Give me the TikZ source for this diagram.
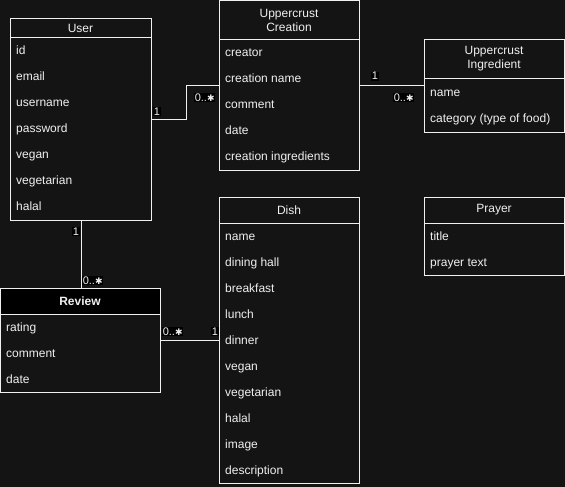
\documentclass[tikz,border=0pt]{standalone}
\usepackage{fontspec}
\setmainfont{Liberation Sans}
\newfontfamily\symfont{DejaVu Sans}
\newcommand{\many}{0..{\symfont\fontsize{9}{9}\selectfont ✱}}
\begin{document}
\definecolor{canvas}{HTML}{141414}
\definecolor{ink}{HTML}{F0F0F0}
\begin{tikzpicture}[x=1pt,y=-1pt,
  box/.style={draw=ink, line width=1pt, fill=canvas, rectangle, anchor=north west, inner sep=0pt},
  title/.style={text=ink, font=\fontsize{12}{14}\selectfont, align=center, inner sep=0pt},
  row/.style={text=ink, font=\fontsize{12}{14}\selectfont, anchor=base west, inner sep=0pt},
  conn/.style={draw=ink, line width=1pt},
  mult/.style={text=ink, fill=black, font=\fontsize{11}{12}\selectfont, inner sep=0.6pt, anchor=base west}]
\useasboundingbox (0,0) rectangle (565,487);
\fill[canvas] (0,0) rectangle (565,487);

% User
\node[box, minimum width=141pt, minimum height=202pt] (user) at (10,18) {};
\draw[conn] (10,38) -- (151,38);
\node[title] (userT) at (80.5,28) {User};
\foreach \t [count=\i from 0] in {id,email,username,password,vegan,vegetarian,halal}
  \node[row] (userR\i) at (16,54.5+26*\i) {\t};

% Uppercrust Creation
\node[box, minimum width=140pt, minimum height=170pt] (creation) at (219,0) {};
\draw[conn] (219,40) -- (359,40);
\node[title] (creationT) at (289,20) {Uppercrust\\Creation};
\foreach \t [count=\i from 0] in {creator,creation name,comment,date,creation ingredients}
  \node[row] (creationR\i) at (225,56.5+26*\i) {\t};

% Uppercrust Ingredient
\node[box, minimum width=140pt, minimum height=93pt] (ingredient) at (424,39) {};
\draw[conn] (424,79) -- (564,79);
\node[title] (ingredientT) at (494,59) {Uppercrust\\Ingredient};
\node[row] (ingredientR0) at (430,96.5) {name};
\node[row] (ingredientR1) at (430,122.5) {category (type of food)};

% Dish
\node[box, minimum width=140pt, minimum height=286pt] (dish) at (219,197) {};
\draw[conn] (219,223) -- (359,223);
\node[title] (dishT) at (289,210) {Dish};
\foreach \t [count=\i from 0] in {name,dining hall,breakfast,lunch,dinner,vegan,vegetarian,halal,image,description}
  \node[row] (dishR\i) at (225,240.5+26*\i) {\t};

% Prayer
\node[box, minimum width=140pt, minimum height=78pt] (prayer) at (424,197) {};
\draw[conn] (424,223) -- (564,223);
\node[title] (prayerT) at (494,210) {Prayer};
\node[row] (prayerR0) at (430,240.5) {title};
\node[row] (prayerR1) at (430,266.5) {prayer text};

% Review (black header, bold title)
\node[box, minimum width=160pt, minimum height=104pt] (review) at (0,288) {};
\fill[black] (0.5,288.5) rectangle (159.5,314);
\draw[conn] (0,314) -- (160,314);
\draw[conn] (0,288) rectangle (160,392);
\node[title, font=\fontsize{12}{14}\selectfont\bfseries] (reviewT) at (80,301.5) {Review};
\foreach \t [count=\i from 0] in {rating,comment,date}
  \node[row] (reviewR\i) at (6,331.5+26*\i) {\t};

% Associations
\draw[conn] (user.east) -- ([xshift=34pt]user.east) |- (creation.west);
\node[mult] (m1) at (153,115) {1};
\node[mult] (m2) at (194,101) {\many};

\draw[conn] (creation.east |- ingredient.west) -- (ingredient.west);
\node[mult] (m3) at (371,80) {1};
\node[mult] (m4) at (393,101) {\many};

\draw[conn] (user.south) -- (review.north -| user.south);
\node[mult] (m5) at (72,235) {1};
\node[mult] (m6) at (82,284) {\many};

\draw[conn] (review.east) -- (dish.west);
\node[mult] (m7) at (162,335) {\many};
\node[mult] (m8) at (211,335) {1};
\end{tikzpicture}
\end{document}
